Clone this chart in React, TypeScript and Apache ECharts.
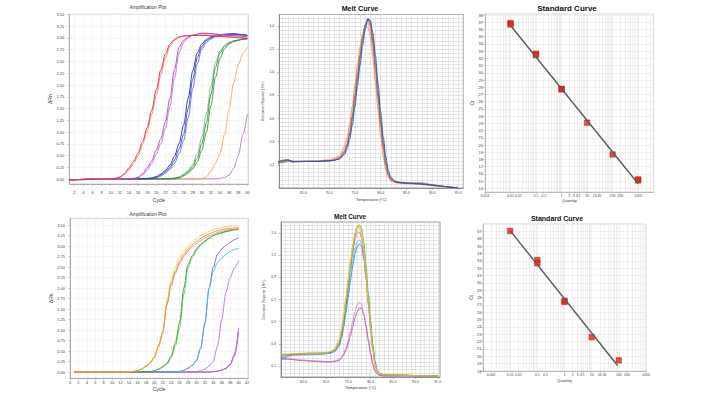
import React, { useEffect, useRef } from "react";
import * as echarts from "echarts";

const FONT = '"Liberation Sans", Arial, sans-serif';

// ---------- Top amplification plot (cycle, ΔRn) ----------
const ampTopRedA = [[1,-0.01],[4,-0.01],[6,0],[10,0.01],[11,0.02],[12,0.05],[13,0.12],[14,0.24],[15,0.38],[16,0.56],[17,0.8],[18,1.1],[19,1.47],[20,1.9],[21,2.32],[22,2.66],[23,2.87],[24,2.97],[25,3.02],[26,3.04],[28,3.05],[31,3.05],[34,3.03],[37,3.01],[40,2.98]];
const ampTopRedB = [[1,-0.01],[4,-0.01],[6,0],[10,0.01],[11,0.02],[12,0.04],[13,0.1],[14,0.2],[15,0.33],[16,0.5],[17,0.74],[18,1.02],[19,1.38],[20,1.78],[21,2.22],[22,2.58],[23,2.82],[24,2.95],[25,3.01],[26,3.04],[28,3.06],[31,3.06],[34,3.04],[37,3.02],[40,3.0]];
const ampTopMagA = [[1,-0.02],[5,0],[14,0.01],[15,0.02],[16,0.04],[17,0.12],[18,0.25],[19,0.39],[20,0.62],[21,0.86],[22,1.22],[23,1.72],[24,2.33],[25,2.8],[26,2.95],[27,3.02],[28,3.06],[30,3.1],[31,3.1],[33,3.08],[36,3.05],[38,3.04],[40,3.02]];
const ampTopMagB = [[1,-0.02],[5,0],[15,0.01],[16,0.03],[17,0.09],[18,0.2],[19,0.33],[20,0.53],[21,0.76],[22,1.08],[23,1.55],[24,2.15],[25,2.68],[26,2.9],[27,3.0],[28,3.05],[30,3.09],[32,3.09],[34,3.07],[37,3.05],[40,3.02]];
const ampTopBlueA = [[1,-0.01],[6,0],[18,0.01],[19,0.02],[20,0.04],[21,0.09],[22,0.16],[23,0.25],[24,0.41],[25,0.64],[26,0.96],[27,1.5],[28,2.12],[29,2.58],[30,2.82],[31,2.94],[32,3.0],[33,3.04],[35,3.07],[37,3.08],[38,3.07],[40,3.05]];
const ampTopBlueB = [[1,-0.01],[6,0],[19,0.01],[20,0.03],[21,0.07],[22,0.13],[23,0.21],[24,0.34],[25,0.54],[26,0.82],[27,1.3],[28,1.92],[29,2.45],[30,2.76],[31,2.9],[32,2.98],[33,3.02],[35,3.06],[37,3.07],[39,3.06],[40,3.05]];
const ampTopBlueC = [[1,-0.01],[6,0],[18,0.02],[19,0.03],[20,0.06],[21,0.11],[22,0.19],[23,0.3],[24,0.49],[25,0.76],[26,1.15],[27,1.72],[28,2.3],[29,2.68],[30,2.87],[31,2.97],[32,3.02],[33,3.05],[35,3.08],[37,3.09],[39,3.07],[40,3.06]];
const ampTopGreenA = [[1,-0.01],[6,0],[23,0.01],[24,0.02],[25,0.04],[26,0.09],[27,0.16],[28,0.27],[29,0.45],[30,0.76],[31,1.2],[32,1.8],[33,2.38],[34,2.68],[35,2.82],[36,2.89],[37,2.93],[38,2.95],[39,2.97],[40,2.98]];
const ampTopGreenB = [[1,-0.01],[6,0],[24,0.01],[25,0.03],[26,0.07],[27,0.13],[28,0.22],[29,0.37],[30,0.62],[31,1.0],[32,1.56],[33,2.16],[34,2.57],[35,2.77],[36,2.87],[37,2.92],[38,2.95],[39,2.97],[40,2.99]];
const ampTopGreenC = [[1,-0.01],[6,0],[23,0.015],[24,0.03],[25,0.05],[26,0.11],[27,0.19],[28,0.32],[29,0.54],[30,0.9],[31,1.38],[32,1.98],[33,2.48],[34,2.73],[35,2.85],[36,2.91],[37,2.94],[38,2.96],[39,2.97],[40,2.98]];
const ampTopOrange = [[1,-0.01],[6,0],[29,0.005],[30,0.01],[31,0.05],[32,0.17],[33,0.34],[34,0.55],[35,0.95],[36,1.5],[37,2.05],[38,2.43],[39,2.67],[40,2.8]];
const ampTopPurple = [[1,-0.01],[6,0],[33,0.01],[34,0.02],[35,0.04],[36,0.09],[37,0.23],[38,0.5],[39,0.95],[40,1.38]];

// ---------- Bottom amplification plot ----------
const ampBotOrange = [[1,0],[14,0],[15,0.01],[16,0.03],[17,0.07],[18,0.14],[19,0.22],[20,0.36],[21,0.62],[22,0.95],[23,1.62],[24,2.1],[25,2.4],[26,2.63],[27,2.8],[28,2.93],[29,3.03],[30,3.11],[31,3.18],[32,3.24],[33,3.29],[34,3.33],[35,3.36],[36,3.39],[37,3.41],[38,3.42],[39,3.43],[40,3.44]];
const ampBotYellow = [[1,0],[14,0],[15,0.01],[16,0.03],[17,0.07],[18,0.14],[19,0.22],[20,0.36],[21,0.63],[22,0.97],[23,1.7],[24,2.2],[25,2.5],[26,2.72],[27,2.88],[28,3.0],[29,3.1],[30,3.18],[31,3.25],[32,3.3],[33,3.35],[34,3.39],[35,3.42],[36,3.44],[37,3.46],[38,3.47],[39,3.48],[40,3.48]];
const ampBotRose = [[1,0],[14,0],[15,0.01],[16,0.03],[17,0.07],[18,0.13],[19,0.21],[20,0.34],[21,0.6],[22,0.93],[23,1.6],[24,2.05],[25,2.35],[26,2.58],[27,2.75],[28,2.88],[29,2.98],[30,3.06],[31,3.13],[32,3.19],[33,3.24],[34,3.28],[35,3.32],[36,3.35],[37,3.37],[38,3.39],[39,3.4],[40,3.41]];
const ampBotGreenA = [[1,0],[18,0],[19,0.01],[20,0.03],[21,0.07],[22,0.13],[23,0.21],[24,0.38],[25,0.7],[26,1.18],[27,2.0],[28,2.56],[29,2.77],[30,2.93],[31,3.04],[32,3.12],[33,3.19],[34,3.25],[35,3.29],[36,3.32],[37,3.35],[38,3.37],[39,3.39],[40,3.4]];
const ampBotGreenB = [[1,0],[18,0],[19,0.01],[20,0.02],[21,0.06],[22,0.11],[23,0.18],[24,0.33],[25,0.62],[26,1.05],[27,1.85],[28,2.48],[29,2.72],[30,2.9],[31,3.02],[32,3.11],[33,3.18],[34,3.24],[35,3.28],[36,3.31],[37,3.34],[38,3.36],[39,3.38],[40,3.39]];
const ampBotViolet = [[1,0],[25,0],[26,0.01],[27,0.04],[28,0.09],[29,0.16],[30,0.27],[31,0.56],[32,1.15],[33,2.0],[34,2.5],[35,2.8],[36,2.93],[37,3.02],[38,3.09],[39,3.15],[40,3.2]];
const ampBotCyan = [[1,0],[25,0],[26,0.01],[27,0.04],[28,0.09],[29,0.16],[30,0.28],[31,0.58],[32,1.17],[33,1.98],[34,2.4],[35,2.6],[36,2.72],[37,2.8],[38,2.87],[39,2.92],[40,2.95]];
const ampBotPurple = [[1,0],[29,0],[30,0.01],[31,0.03],[32,0.07],[33,0.14],[34,0.25],[35,0.62],[36,1.25],[37,1.9],[38,2.25],[39,2.48],[40,2.66]];
const ampBotMagSmall = [[1,0],[33,0],[34,0.01],[35,0.02],[36,0.05],[37,0.09],[38,0.19],[39,0.42],[40,1.05]];
const ampBotVioSmall = [[1,0],[33,0],[34,0.01],[35,0.02],[36,0.04],[37,0.08],[38,0.17],[39,0.38],[40,0.95]];

// ---------- Melt curves (temperature, -Rn') ----------
const meltTemps = [60,61,62,63,64,66,68,70,71,72,73,73.5,74,74.5,75,75.5,76,76.5,77,77.5,78,78.5,79,79.5,80,80.5,81,81.5,82,83,84,86,88,90,92,94,95];
const meltTopRed    = [0.22,0.23,0.24,0.23,0.23,0.23,0.23,0.235,0.24,0.26,0.32,0.38,0.48,0.62,0.8,0.98,1.15,1.3,1.41,1.45,1.4,1.24,1.02,0.78,0.55,0.35,0.2,0.11,0.07,0.05,0.045,0.04,0.035,0.025,0.015,0.005,0];
const meltTopBlue   = [0.22,0.24,0.245,0.23,0.23,0.23,0.23,0.235,0.24,0.25,0.29,0.34,0.42,0.54,0.7,0.88,1.06,1.23,1.37,1.46,1.45,1.34,1.14,0.9,0.66,0.44,0.27,0.15,0.09,0.055,0.045,0.04,0.035,0.025,0.015,0.005,0];
const meltTopGreen  = [0.21,0.22,0.23,0.225,0.23,0.23,0.23,0.235,0.24,0.255,0.3,0.36,0.45,0.58,0.75,0.93,1.11,1.28,1.4,1.47,1.44,1.3,1.08,0.84,0.6,0.4,0.23,0.13,0.08,0.055,0.05,0.045,0.045,0.03,0.015,0.005,0];
const meltTopOrange = [0.23,0.23,0.235,0.23,0.23,0.235,0.235,0.24,0.25,0.27,0.34,0.42,0.53,0.68,0.86,1.04,1.2,1.33,1.41,1.42,1.35,1.17,0.94,0.7,0.48,0.29,0.16,0.09,0.06,0.045,0.04,0.035,0.03,0.02,0.01,0.005,0];
const meltTopPink   = [0.22,0.22,0.23,0.22,0.225,0.23,0.235,0.245,0.255,0.28,0.36,0.44,0.56,0.71,0.89,1.07,1.22,1.34,1.4,1.39,1.31,1.12,0.89,0.66,0.45,0.27,0.15,0.09,0.06,0.045,0.04,0.035,0.03,0.02,0.01,0.005,0];
const meltTopPurple = [0.22,0.235,0.24,0.23,0.23,0.23,0.23,0.235,0.24,0.26,0.31,0.37,0.47,0.6,0.78,0.96,1.13,1.29,1.41,1.46,1.42,1.27,1.05,0.81,0.57,0.37,0.21,0.12,0.075,0.05,0.045,0.04,0.035,0.025,0.015,0.005,0];

const meltBotYellow = [0.21,0.21,0.21,0.21,0.215,0.215,0.215,0.22,0.23,0.25,0.33,0.42,0.55,0.7,0.87,1.03,1.17,1.29,1.36,1.38,1.32,1.17,0.95,0.7,0.46,0.26,0.12,0.05,0.03,0.02,0.018,0.016,0.015,0.013,0.012,0.01,0.01];
const meltBotGreen  = [0.2,0.2,0.205,0.21,0.21,0.215,0.215,0.22,0.225,0.24,0.3,0.38,0.5,0.65,0.82,0.99,1.14,1.27,1.35,1.37,1.34,1.21,1.0,0.76,0.51,0.3,0.14,0.06,0.03,0.02,0.018,0.016,0.015,0.013,0.012,0.01,0.01];
const meltBotOrange = [0.2,0.2,0.205,0.21,0.21,0.215,0.215,0.22,0.23,0.26,0.34,0.44,0.57,0.72,0.89,1.05,1.19,1.3,1.36,1.35,1.27,1.11,0.89,0.65,0.42,0.23,0.1,0.045,0.025,0.02,0.018,0.016,0.015,0.013,0.012,0.01,0.01];
const meltBotRose   = [0.19,0.19,0.195,0.2,0.2,0.205,0.21,0.215,0.22,0.24,0.31,0.4,0.52,0.67,0.83,0.99,1.12,1.23,1.3,1.31,1.26,1.12,0.92,0.69,0.46,0.26,0.12,0.05,0.03,0.02,0.018,0.016,0.015,0.013,0.012,0.01,0.01];
const meltBotCyan   = [0.18,0.18,0.19,0.195,0.2,0.2,0.205,0.21,0.215,0.23,0.29,0.37,0.48,0.62,0.77,0.92,1.05,1.16,1.22,1.24,1.2,1.08,0.89,0.67,0.45,0.26,0.12,0.05,0.03,0.02,0.018,0.016,0.015,0.013,0.012,0.01,0.01];
const meltBotBlue   = [0.17,0.175,0.2,0.205,0.205,0.205,0.205,0.21,0.215,0.23,0.28,0.35,0.45,0.58,0.72,0.87,1.0,1.11,1.18,1.2,1.18,1.07,0.89,0.68,0.46,0.27,0.13,0.055,0.03,0.02,0.018,0.016,0.015,0.013,0.012,0.01,0.01];
const meltBotPinkSm = [0.17,0.17,0.165,0.16,0.155,0.15,0.145,0.14,0.14,0.145,0.16,0.18,0.21,0.26,0.33,0.41,0.5,0.59,0.65,0.675,0.65,0.57,0.45,0.32,0.2,0.11,0.05,0.025,0.015,0.01,0.01,0.01,0.01,0.01,0.01,0.01,0.01];
const meltBotPurpSm = [0.16,0.16,0.16,0.155,0.15,0.145,0.14,0.135,0.135,0.14,0.15,0.17,0.2,0.24,0.3,0.37,0.45,0.53,0.59,0.62,0.62,0.56,0.46,0.34,0.22,0.12,0.055,0.025,0.015,0.01,0.01,0.01,0.01,0.01,0.01,0.01,0.01];

// ---------- Standard curves (quantity, Ct) ----------
const stdTopQty = [0.01,0.01,0.1,0.1,1,1,10,100,1000,1000];
const stdTopCt  = [36.9,36.7,32.65,32.45,27.8,27.7,23.1,18.7,15.25,15.1];
const stdTopFitQty = [0.01,1000];
const stdTopFitCt  = [36.55,14.65];
const stdBotQty = [0.01,0.1,0.1,1,1,10,100];
const stdBotCt  = [37.05,33.1,32.65,27.55,27.4,22.6,19.45];
const stdBotFitQty = [0.01,90];
const stdBotFitCt  = [37.1,18.75];

// ---------- Tick labels ----------
const ampTopXTicks = [2,4,6,8,10,12,14,16,18,20,22,24,26,28,30,32,34,36,38,40];
const ampBotXTicks = [0,2,4,6,8,10,12,14,16,18,20,22,24,26,28,30,32,34,36,38,40,42];
const ampYTicks = [0,0.25,0.5,0.75,1,1.25,1.5,1.75,2,2.25,2.5,2.75,3,3.25,3.5];
const meltXTicks = [65,70,75,80,85,90,95];
const meltTopYTicks = [0.2,0.4,0.6,0.8,1.0,1.2,1.4];
const meltBotYTicks = [0.1,0.3,0.5,0.7,0.9,1.1,1.3];
const stdTopXTicks = [0.001,0.01,0.02,0.1,0.2,1,2,3,4,5,10,20,30,100,200,1000];
const stdBotXTicks = [0.001,0.002,0.01,0.02,0.1,0.2,1,2,3,4,5,10,20,30,100,200,1000];
const stdTopYTicks = [14,15,16,17,18,19,20,21,22,23,24,25,26,27,28,29,30,31,32,33,34,35,36,37,38];
const stdBotYTicks = [18,19,20,21,22,23,24,25,26,27,28,29,30,31,32,33,34,35,36,37];

const log10 = (v: number) => Math.log10(v);

function mainAxis(g: number, min: number, max: number, ticks: number[], fmt: (v: number) => string, o: any) {
  return {
    type: "value", gridIndex: g, min, max,
    axisLine: { show: true, onZero: false, lineStyle: { color: o.lineColor, width: 0.8 } },
    axisTick: { show: true, customValues: ticks, length: 2, lineStyle: { color: o.lineColor, width: 0.5 } },
    axisLabel: { show: true, customValues: ticks, formatter: fmt, fontSize: o.fontSize, color: "#444", margin: o.margin, fontFamily: FONT, hideOverlap: false },
    splitLine: { show: !!o.splitColor, customValues: ticks, lineStyle: { color: o.splitColor || "#eee", width: 0.5 } },
    name: o.name, nameLocation: "middle", nameGap: o.nameGap,
    nameTextStyle: { fontSize: o.nameSize, color: "#333", fontFamily: FONT },
  };
}
function minorAxis(g: number, min: number, max: number, vals: number[], color: string | null) {
  return {
    type: "value", gridIndex: g, min, max,
    axisLine: { show: false, onZero: false }, axisLabel: { show: false },
    axisTick: { show: false, customValues: vals },
    splitLine: { show: !!color, customValues: vals, lineStyle: { color: color || "#fff", width: 0.5 } },
  };
}

function range(a: number, b: number, step: number) {
  const out: number[] = [];
  for (let v = a; v <= b + 1e-9; v += step) out.push(Math.round(v * 10000) / 10000);
  return out;
}
function logMinor(lo: number, hi: number) {
  const out: number[] = [];
  for (let e = lo; e <= hi; e++) for (let k = 1; k <= 9; k++) out.push(log10(k * Math.pow(10, e)));
  return out;
}

function buildOption() {
  const grids = [
    { left: 69.3, top: 14.3, width: 179, height: 169.7, borderColor: "#c4c4c4" },
    { left: 279.3, top: 14.5, width: 184, height: 173.5, borderColor: "#808080" },
    { left: 485, top: 14, width: 168.5, height: 178, borderColor: "#cfcfcf" },
    { left: 70, top: 218.3, width: 178.3, height: 160, borderColor: "#c4c4c4" },
    { left: 281, top: 222, width: 159, height: 155, borderColor: "#808080" },
    { left: 483, top: 224, width: 163, height: 147, borderColor: "#cfcfcf" },
  ].map((g) => ({ ...g, show: true, borderWidth: 0.8, backgroundColor: "#fff", containLabel: false, outerBoundsMode: "none" }));

  const f2 = (v: number) => v.toFixed(2);
  const f1 = (v: number) => v.toFixed(1);
  const fi = (v: number) => String(v);
  const fq = (v: number) => String(Number(Math.pow(10, v).toPrecision(2)));

  const meltXMinor = range(61, 96, 1);
  const meltYMinor = range(0, 1.5, 0.2 / 6);

  const xAxis = [
    mainAxis(0, 0.9, 40.2, ampTopXTicks, fi, { lineColor: "#a0a0a0", fontSize: 4, margin: 6, splitColor: "#ececec", name: "Cycle", nameGap: 13, nameSize: 5 }),
    minorAxis(0, 0.9, 40.2, [], null),
    mainAxis(1, 60.36, 96, meltXTicks, f1, { lineColor: "#808080", fontSize: 3.5, margin: 3, name: "Temperature (°C)", nameGap: 9, nameSize: 4 }),
    minorAxis(1, 60.36, 96, meltXMinor, "#cfcfcf"),
    mainAxis(2, -3, 3.6, stdTopXTicks.map(log10), fq, { lineColor: "#b0b0b0", fontSize: 3.5, margin: 1.5, name: "Quantity", nameGap: 5, nameSize: 4 }),
    minorAxis(2, -3, 3.6, logMinor(-3, 3), "#e2e2e2"),
    mainAxis(3, 0, 42.3, ampBotXTicks, fi, { lineColor: "#a0a0a0", fontSize: 4, margin: 2.5, splitColor: "#ececec", name: "Cycle", nameGap: 8, nameSize: 5 }),
    minorAxis(3, 0, 42.3, [], null),
    mainAxis(4, 60, 95.5, meltXTicks, f1, { lineColor: "#808080", fontSize: 3.5, margin: 3, name: "Temperature (°C)", nameGap: 8, nameSize: 4 }),
    minorAxis(4, 60, 95.5, range(61, 95, 1), "#cfcfcf"),
    mainAxis(5, -3, 3, stdBotXTicks.map(log10), fq, { lineColor: "#b0b0b0", fontSize: 3.5, margin: 1.5, name: "Quantity", nameGap: 7, nameSize: 4 }),
    minorAxis(5, -3, 3, logMinor(-3, 2), "#e2e2e2"),
  ];
  const yAxis = [
    mainAxis(0, -0.1, 3.5, ampYTicks, f2, { lineColor: "#a0a0a0", fontSize: 4, margin: 5, splitColor: "#ececec", name: "ΔRn", nameGap: 10, nameSize: 5 }),
    minorAxis(0, -0.1, 3.5, [], null),
    mainAxis(1, 0, 1.5, meltTopYTicks, f1, { lineColor: "#808080", fontSize: 3.5, margin: 5, name: "Derivative Reporter (-Rn')", nameGap: 14, nameSize: 3.5 }),
    minorAxis(1, 0, 1.5, meltYMinor, "#cfcfcf"),
    mainAxis(2, 13.5, 38.15, stdTopYTicks, fi, { lineColor: "#b0b0b0", fontSize: 4, margin: 2, splitColor: "#e2e2e2", name: "Ct", nameGap: 10, nameSize: 5 }),
    minorAxis(2, 13.5, 38.15, [], null),
    mainAxis(3, -0.15, 3.66, ampYTicks, f2, { lineColor: "#a0a0a0", fontSize: 4, margin: 5, splitColor: "#ececec", name: "ΔRn", nameGap: 17, nameSize: 5 }),
    minorAxis(3, -0.15, 3.66, [], null),
    mainAxis(4, 0, 1.4, meltBotYTicks, f1, { lineColor: "#808080", fontSize: 3.5, margin: 5, name: "Derivative Reporter (-Rn')", nameGap: 15, nameSize: 3.5 }),
    minorAxis(4, 0, 1.4, range(0, 1.4, 0.2 / 6), "#cfcfcf"),
    mainAxis(5, 18, 38, stdBotYTicks, fi, { lineColor: "#b0b0b0", fontSize: 4, margin: 1.5, splitColor: "#e2e2e2", name: "Ct", nameGap: 8, nameSize: 5 }),
    minorAxis(5, 18, 38, [], null),
  ];

  const line = (g: number, data: number[][], color: string, width = 0.9) => ({
    type: "line", xAxisIndex: g * 2, yAxisIndex: g * 2, data, showSymbol: false, symbol: "none",
    smooth: 0.3, smoothMonotone: "x", lineStyle: { color, width }, silent: true,
  });
  const melt = (g: number, vals: number[], color: string) => line(g, meltTemps.map((t, i) => [t, vals[i]]), color, 0.8);

  const std = (g: number, qty: number[], ct: number[], fq2: number[], fc: number[]) => [
    { type: "line", xAxisIndex: g * 2, yAxisIndex: g * 2, data: fq2.map((q, i) => [log10(q), fc[i]]), showSymbol: false, symbol: "none", lineStyle: { color: "#5a5a5a", width: 1.4 }, silent: true },
    { type: "scatter", xAxisIndex: g * 2, yAxisIndex: g * 2, data: qty.map((q, i) => [log10(q), ct[i]]), symbol: "rect", symbolSize: 5.5, itemStyle: { color: "#e8201c", borderColor: "#b00000", borderWidth: 0.5 }, silent: true },
  ];

  const series: any[] = [
    line(0, ampTopPurple, "#b27ac8"),
    line(0, ampTopOrange, "#f4a460"),
    line(0, ampTopGreenC, "#7cc47c"),
    line(0, ampTopGreenB, "#3a9a3a"),
    line(0, ampTopGreenA, "#2a8a3a"),
    line(0, ampTopBlueC, "#2a2aa0"),
    line(0, ampTopBlueB, "#6a6ae0"),
    line(0, ampTopBlueA, "#3c3cd0"),
    line(0, ampTopMagB, "#d070c0"),
    line(0, ampTopMagA, "#b040c8"),
    line(0, ampTopRedB, "#e88080"),
    line(0, ampTopRedA, "#e03030"),

    melt(1, meltTopPink, "#f08a8a"),
    melt(1, meltTopOrange, "#f0a060"),
    melt(1, meltTopPurple, "#9040b0"),
    melt(1, meltTopRed, "#e03a3a"),
    melt(1, meltTopGreen, "#30b050"),
    melt(1, meltTopBlue, "#2040d0"),

    ...std(2, stdTopQty, stdTopCt, stdTopFitQty, stdTopFitCt),

    line(3, ampBotVioSmall, "#7a50c8"),
    line(3, ampBotMagSmall, "#c060c8"),
    line(3, ampBotPurple, "#b070d8"),
    line(3, ampBotViolet, "#6f62d6"),
    line(3, ampBotCyan, "#4fb4e0"),
    line(3, ampBotGreenB, "#6cc26c"),
    line(3, ampBotGreenA, "#30a030"),
    line(3, ampBotRose, "#e08a8a"),
    line(3, ampBotYellow, "#e8d060"),
    line(3, ampBotOrange, "#f08a30"),

    melt(4, meltBotPurpSm, "#8050c0"),
    melt(4, meltBotPinkSm, "#e070c0"),
    melt(4, meltBotBlue, "#4060e0"),
    melt(4, meltBotCyan, "#40c0d0"),
    melt(4, meltBotRose, "#e07090"),
    melt(4, meltBotOrange, "#f0a030"),
    melt(4, meltBotGreen, "#30a050"),
    melt(4, meltBotYellow, "#e8d040"),

    ...std(5, stdBotQty, stdBotCt, stdBotFitQty, stdBotFitCt),
  ];

  const title = (text: string, x: number, y: number, size: number, bold: boolean) => ({
    type: "text", x, y, silent: true,
    style: { text, fontSize: size, fontWeight: bold ? "bold" : "normal", fontFamily: FONT, fill: bold ? "#111" : "#333", align: "center", verticalAlign: "middle" },
  });

  return {
    animation: false,
    backgroundColor: "#fff",
    grid: grids,
    xAxis,
    yAxis,
    series,
    graphic: [
      title("Amplification Plot", 148, 7, 4.8, false),
      title("Melt Curve", 360, 8, 7.2, true),
      title("Standard Curve", 567, 8, 8, true),
      title("Amplification Plot", 148, 214, 4.8, false),
      title("Melt Curve", 350, 216, 6.3, true),
      title("Standard Curve", 557, 218.5, 7, true),
    ],
  };
}

export default function App() {
  const ref = useRef<HTMLDivElement>(null);
  useEffect(() => {
    const chart = echarts.init(ref.current as HTMLDivElement, null, { renderer: "svg" });
    chart.setOption(buildOption() as any);
    return () => chart.dispose();
  }, []);
  return <div ref={ref} style={{ position: "absolute", left: 0, top: 0, width: 707, height: 397, background: "#fff" }} />;
}
